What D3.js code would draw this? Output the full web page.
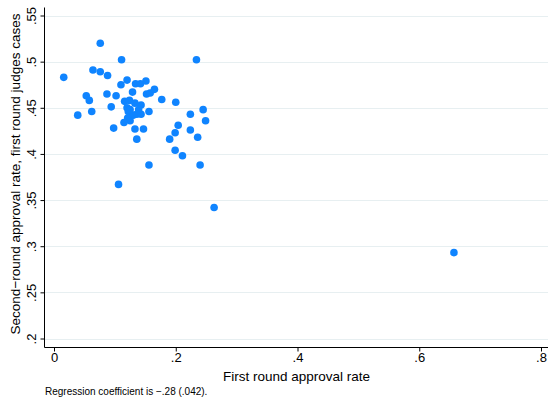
<!DOCTYPE html>
<html>
<head>
<meta charset="utf-8">
<script src="https://cdn.jsdelivr.net/npm/d3@7"></script>
<style>
  html, body { margin: 0; padding: 0; background: #fff; }
  svg { display: block; }
  text { font-family: "Liberation Sans", Arial, Helvetica, sans-serif; fill: #000; }
</style>
</head>
<body>
<svg id="chart" width="548" height="399"></svg>
<script>
// First-round approval rate of each judge (x) and the second-round approval rate (y)
const firstRound = [
  0.016, 0.039, 0.053, 0.058, 0.062, 0.064, 0.076, 0.076, 0.087, 0.088,
  0.094, 0.098, 0.102, 0.106, 0.111, 0.110, 0.116, 0.120, 0.124, 0.129,
  0.134, 0.142, 0.151, 0.133, 0.143, 0.120, 0.122, 0.130, 0.136, 0.143,
  0.156, 0.121, 0.125, 0.115, 0.133, 0.147, 0.136, 0.152, 0.158, 0.165,
  0.177, 0.200, 0.190, 0.204, 0.199, 0.224, 0.245, 0.249, 0.224, 0.236,
  0.199, 0.211, 0.156, 0.240, 0.263, 0.234, 0.657, 0.125, 0.139
];
const secondRound = [
  0.483, 0.442, 0.463, 0.458, 0.446, 0.491, 0.520, 0.489, 0.465, 0.485,
  0.451, 0.428, 0.463, 0.367, 0.502, 0.475, 0.457, 0.480, 0.458, 0.467,
  0.476, 0.476, 0.479, 0.455, 0.453, 0.450, 0.446, 0.442, 0.443, 0.443,
  0.446, 0.439, 0.436, 0.434, 0.427, 0.427, 0.416, 0.465, 0.466, 0.470,
  0.459, 0.456, 0.416, 0.431, 0.423, 0.443, 0.448, 0.436, 0.426, 0.418,
  0.404, 0.398, 0.388, 0.388, 0.342, 0.502, 0.293, 0.448, 0.448
];

const xTicks = [0, 0.2, 0.4, 0.6, 0.8];
const xTickLabels = ["0", ".2", ".4", ".6", ".8"];
const yTicks = [0.2, 0.25, 0.3, 0.35, 0.4, 0.45, 0.5, 0.55];
const yTickLabels = [".2", ".25", ".3", ".35", ".4", ".45", ".5", ".55"];

const xTitle = "First round approval rate";
const yTitle = "Second\u2212round approval rate, first round judges cases";
const note = "Regression coefficient is \u2212.28 (.042).";

const svg = d3.select("#chart");

const x = d3.scaleLinear().domain([0, 0.8]).range([54, 541]);
const y = d3.scaleLinear().domain([0.2, 0.55]).range([338.5, 15.5]);

const axisX = 44.5;   // position of the vertical axis line
const axisY = 347.5;  // position of the horizontal axis line
const plotTop = 7.5;
const plotRight = 548;

// horizontal grid lines
svg.append("g")
  .selectAll("line")
  .data(yTicks)
  .join("line")
  .attr("x1", axisX)
  .attr("x2", plotRight)
  .attr("y1", d => Math.round(y(d)) + 0.5)
  .attr("y2", d => Math.round(y(d)) + 0.5)
  .attr("stroke", "#e7eff1")
  .attr("stroke-width", 1.2);

// scatter points
svg.append("g")
  .selectAll("circle")
  .data(firstRound.map((v, i) => [v, secondRound[i]]))
  .join("circle")
  .attr("cx", d => x(d[0]))
  .attr("cy", d => y(d[1]))
  .attr("r", 3.8)
  .attr("fill", "#0f84ff");

// y axis
const yAxis = svg.append("g")
  .attr("transform", `translate(${axisX},0)`)
  .call(d3.axisLeft(y)
    .tickValues(yTicks)
    .tickSize(4)
    .tickFormat((d, i) => yTickLabels[i]));
yAxis.select(".domain")
  .attr("d", `M0,${plotTop}V${axisY}`)
  .attr("stroke", "#000");
yAxis.selectAll(".tick line").attr("stroke", "#000");
yAxis.selectAll(".tick text")
  .attr("transform", "rotate(-90)")
  .attr("x", 0)
  .attr("y", -8.5)
  .attr("dy", 0)
  .attr("text-anchor", "middle")
  .style("font-size", "13px")
  .style("font-family", "'Liberation Sans', Arial, sans-serif")
  .attr("fill", "#000");

// x axis
const xAxis = svg.append("g")
  .attr("transform", `translate(0,${axisY})`)
  .call(d3.axisBottom(x)
    .tickValues(xTicks)
    .tickSize(4)
    .tickFormat((d, i) => xTickLabels[i]));
xAxis.select(".domain")
  .attr("d", `M${axisX},0H${plotRight}`)
  .attr("stroke", "#000");
xAxis.selectAll(".tick line").attr("stroke", "#000");
xAxis.selectAll(".tick text")
  .attr("y", 14)
  .attr("dy", 0)
  .style("font-size", "13px")
  .style("font-family", "'Liberation Sans', Arial, sans-serif")
  .attr("fill", "#000");

// axis titles
svg.append("text")
  .attr("x", 296.5)
  .attr("y", 380.5)
  .attr("text-anchor", "middle")
  .style("font-size", "13.5px")
  .text(xTitle);

svg.append("text")
  .attr("transform", "translate(19.5,174) rotate(-90)")
  .attr("text-anchor", "middle")
  .style("font-size", "13.5px")
  .text(yTitle);

// note below the chart
svg.append("text")
  .attr("x", 45)
  .attr("y", 395)
  .style("font-size", "10px")
  .text(note);
</script>
</body>
</html>
